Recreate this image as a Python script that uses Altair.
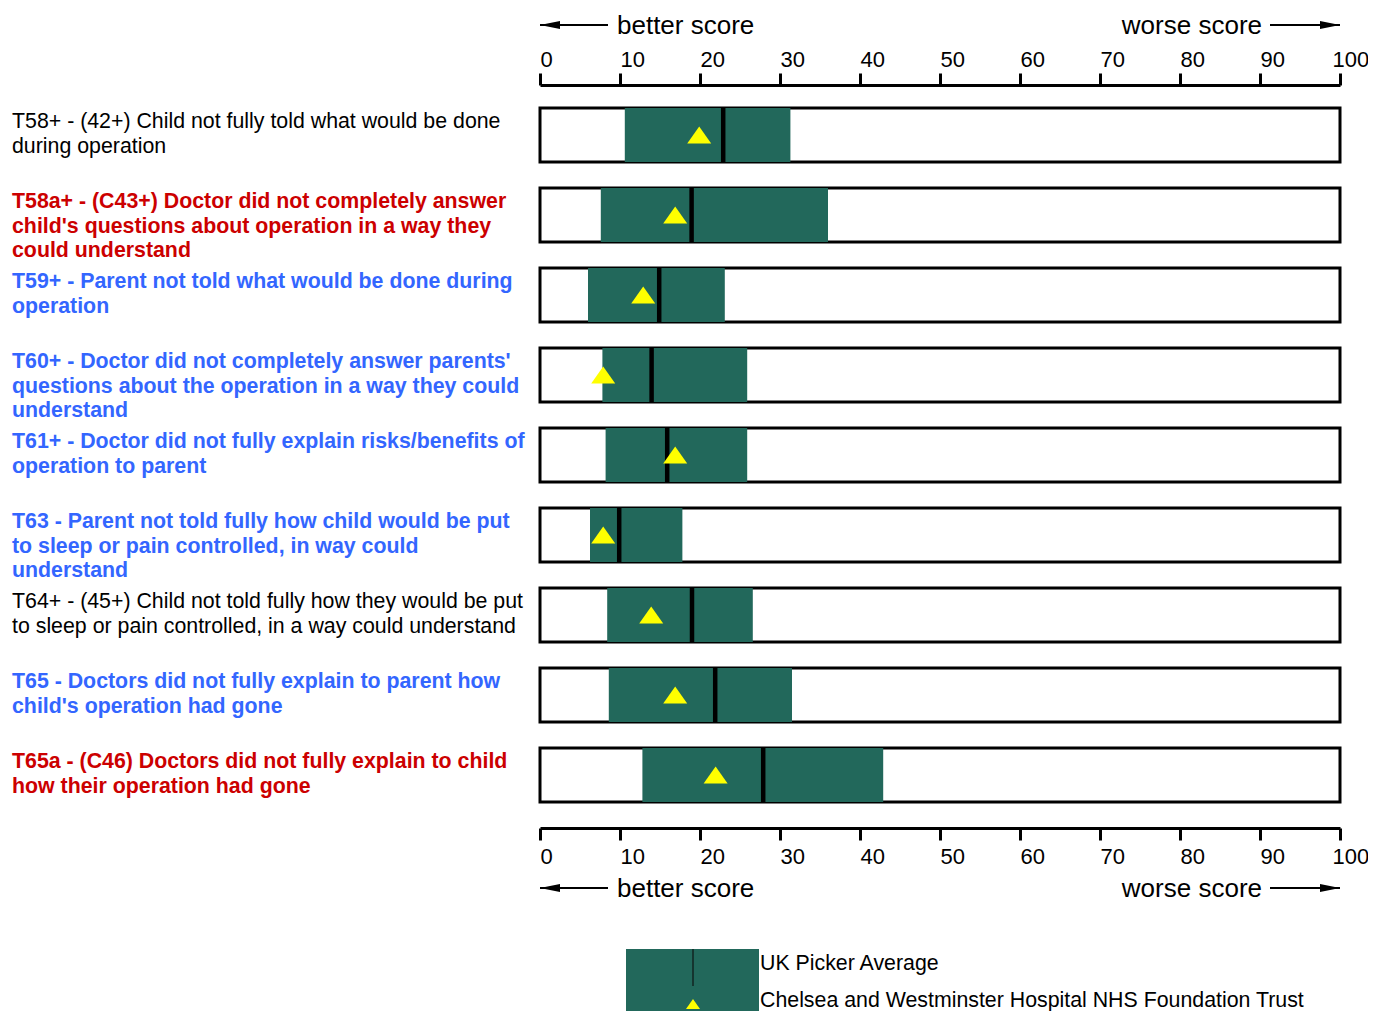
import altair as alt
import pandas as pd

# ---------------- data ----------------
labels = [
    "T58+ - (42+) Child not fully told what would be done\nduring operation",
    "T58a+ - (C43+) Doctor did not completely answer\nchild's questions about operation in a way they\ncould understand",
    "T59+ - Parent not told what would be done during\noperation",
    "T60+ - Doctor did not completely answer parents'\nquestions about the operation in a way they could\nunderstand",
    "T61+ - Doctor did not fully explain risks/benefits of\noperation to parent",
    "T63 - Parent not told fully how child would be put\nto sleep or pain controlled, in way could\nunderstand",
    "T64+ - (45+) Child not told fully how they would be put\nto sleep or pain controlled, in a way could understand",
    "T65 - Doctors did not fully explain to parent how\nchild's operation had gone",
    "T65a - (C46) Doctors did not fully explain to child\nhow their operation had gone",
]
styles = ["normal", "red", "blue", "blue", "blue", "blue", "normal", "blue", "red"]
low = [10.6, 7.6, 6.0, 7.8, 8.2, 6.25, 8.4, 8.6, 12.8]
high = [31.3, 36.0, 23.1, 25.9, 25.9, 17.8, 26.6, 31.5, 42.9]
avg = [22.9, 18.95, 14.9, 13.95, 15.9, 9.9, 19.0, 21.9, 27.9]
trust = [19.9, 16.9, 12.9, 7.9, 16.9, 7.9, 13.9, 16.9, 21.95]
tick_values = list(range(0, 101, 10))
better_text = "better score"
worse_text = "worse score"
legend_avg = "UK Picker Average"
legend_trust = "Chelsea and Westminster Hospital NHS Foundation Trust"

# ---------------- style ----------------
FONT = "Liberation Sans"
GREEN = "#22685b"
TRI = "M0,-0.7L1,0.7L-1,0.7Z"
HEAD_L = "M-1,0L1,-0.4L1,0.4Z"
HEAD_R = "M1,0L-1,-0.4L-1,0.4Z"
LABEL_FS = 21.33

df = pd.DataFrame({
    "row": list(range(len(labels))),
    "label": labels,
    "style": styles,
    "low": low,
    "high": high,
    "avg": avg,
    "trust": trust,
})

y_scale = alt.Scale(paddingInner=0.325, paddingOuter=0.1625)
x_scale = alt.Scale(domain=[0, 100], nice=False, zero=False)


def Y(**kw):
    return alt.Y("row:O", axis=None, scale=y_scale, **kw)


def axis(orient, offset, pad):
    return alt.Axis(
        orient=orient, values=tick_values, offset=offset, title=None, grid=False,
        domainColor="black", domainWidth=3, tickColor="black", tickWidth=3,
        tickSize=12, labelFont=FONT, labelFontSize=22, labelColor="black",
        labelAlign="left", labelFlush=False, labelPadding=pad,
        labelOverlap=False,
        labelOffset={"condition": {"test": "datum.value == 100", "value": -8},
                     "value": 0},
    )


base = alt.Chart(df)

box = base.transform_calculate(x0="0", x1="100").mark_rect(
    fill="white", stroke="black", strokeWidth=3
).encode(
    x=alt.X("x0:Q", scale=x_scale, axis=axis("top", 10, 2)),
    x2="x1:Q",
    y=Y(),
)

green = base.mark_rect(color=GREEN).encode(
    x=alt.X("low:Q", scale=x_scale, axis=axis("bottom", 13, 6)),
    x2="high:Q",
    y=Y(),
)

avg_tick = base.mark_tick(color="black", thickness=4.5, size=54, opacity=1).encode(
    x=alt.X("avg:Q", scale=x_scale, axis=None),
    y=Y(),
)

tri = base.mark_point(
    shape=TRI, filled=True, fill="#ffff00", size=576, opacity=1, strokeWidth=0
).encode(
    x=alt.X("trust:Q", scale=x_scale, axis=None),
    y=Y(),
)

text_props = dict(align="left", baseline="top", font=FONT, fontSize=LABEL_FS,
                  lineHeight=24.5, lineBreak="\n", dy=3)

lab_normal = base.transform_filter("datum.style == 'normal'").mark_text(
    color="black", **text_props
).encode(
    x=alt.value(-528),
    y=Y(bandPosition=0),
    text="label:N",
)

lab_bold = base.transform_filter("datum.style != 'normal'").mark_text(
    fontWeight="bold", **text_props
).encode(
    x=alt.value(-528),
    y=Y(bandPosition=0),
    text="label:N",
    color=alt.Color("style:N", scale=alt.Scale(domain=["red", "blue"],
                    range=["#cc0000", "#3366ff"]), legend=None),
)

ann = alt.Chart(pd.DataFrame({"k": [0]}))

layers = [box, green, avg_tick, tri, lab_normal, lab_bold]

for yl, yt in [(-70, -69.3), (793, 793.7)]:
    layers += [
        ann.mark_rule(color="black", strokeWidth=2).encode(
            x=alt.value(0), x2=alt.value(68), y=alt.value(yl)),
        ann.mark_rule(color="black", strokeWidth=2).encode(
            x=alt.value(730), x2=alt.value(800), y=alt.value(yl)),
        ann.mark_point(shape=HEAD_L, filled=True, color="black", size=400,
                       opacity=1, strokeWidth=0).encode(
            x=alt.value(10), y=alt.value(yl)),
        ann.mark_point(shape=HEAD_R, filled=True, color="black", size=400,
                       opacity=1, strokeWidth=0).encode(
            x=alt.value(790), y=alt.value(yl)),
        ann.mark_text(text=better_text, align="left", baseline="middle",
                      font=FONT, fontSize=26, color="black").encode(
            x=alt.value(77), y=alt.value(yt)),
        ann.mark_text(text=worse_text, align="right", baseline="middle",
                      font=FONT, fontSize=26, color="black").encode(
            x=alt.value(722), y=alt.value(yt)),
    ]

# custom legend
layers += [
    ann.mark_rect(color=GREEN).encode(
        x=alt.value(86), x2=alt.value(219), y=alt.value(854), y2=alt.value(935)),
    ann.mark_rule(color="#15352f", strokeWidth=2).encode(
        x=alt.value(153), y=alt.value(854), y2=alt.value(891)),
    ann.mark_point(shape=TRI, filled=True, fill="#ffff00", size=196, opacity=1,
                   strokeWidth=0).encode(x=alt.value(153), y=alt.value(909)),
    ann.mark_text(text=legend_avg, align="left", baseline="middle", font=FONT,
                  fontSize=LABEL_FS, color="black").encode(
        x=alt.value(220), y=alt.value(869)),
    ann.mark_text(text=legend_trust, align="left", baseline="middle", font=FONT,
                  fontSize=LABEL_FS, color="black").encode(
        x=alt.value(220), y=alt.value(906)),
]

chart = alt.layer(*layers).resolve_axis(x="independent").properties(
    width=800, height=720,
    padding={"left": 532, "top": 87, "right": 28, "bottom": 196},
    autosize=alt.AutoSizeParams(type="none"),
    background="white",
).configure_view(stroke=None)

chart.save("out.html", embed_options={"renderer": "svg", "actions": False})
